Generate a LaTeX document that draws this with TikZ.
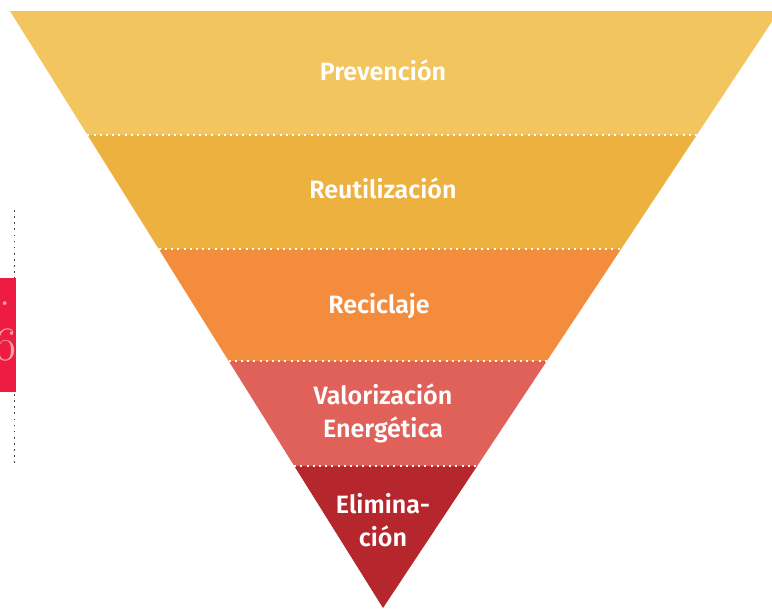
\documentclass[tikz,border=0pt]{standalone}
\usepackage{fontspec}
\newfontfamily\rotulo{Fira Sans}[BoldFont={Fira Sans SemiBold}]
\usetikzlibrary{calc}
\definecolor{capa1}{HTML}{F3C55E}
\definecolor{capa2}{HTML}{ECB13F}
\definecolor{capa3}{HTML}{F38C3D}
\definecolor{capa4}{HTML}{DF615A}
\definecolor{capa5}{HTML}{B5272D}
\definecolor{marca}{HTML}{EE1B42}
\definecolor{marcatxt}{HTML}{F5A6A4}
\begin{document}
\begin{tikzpicture}[x=0.75pt, y=-0.75pt,
	etiqueta/.style={white, font=\rotulo\bfseries\fontsize{18.8}{24.5}\selectfont, align=center, anchor=base},
	separador/.style={white, line width=1.5pt, dash pattern=on 1.5pt off 3.15pt}]
	\clip (0,0) rectangle (772,608);
	\coordinate (tl) at (10,11);
	\coordinate (tr) at (779,11);
	\coordinate (tip) at (383,608);
	% franjas de la piramide invertida
	\foreach \a / \b / \col in {0/0.2077/capa1, 0.2077/0.3987/capa2, 0.3987/0.5863/capa3, 0.5863/0.7621/capa4, 0.7621/1/capa5} {
		\fill[\col] ($(tl)!\a!(tip)$) -- ($(tl)!\b!(tip)$) -- ($(tr)!\b!(tip)$) -- ($(tr)!\a!(tip)$) -- cycle;
	}
	\foreach \t in {0.2077, 0.3987, 0.5863, 0.7621} {
		\draw[separador] ($(tl)!\t!(tip)$) -- ($(tr)!\t!(tip)$);
	}
	% base = linea de abajo en los textos de dos lineas
	\node[etiqueta] (prev) at (383,80) {Prevención};
	\node[etiqueta] (reut) at (383,198) {Reutilización};
	\node[etiqueta] (reci) at (379,313) {Reciclaje};
	\node[etiqueta] (valo) at (383,437) {Valorización\\Energética};
	\node[etiqueta] (elim) at (383,546) {Elimina-\\ción};
	% marca lateral
	\draw[black!75, line width=1.2pt, dash pattern=on 1.2pt off 3.4pt] (14.5,210) -- (14.5,467);
	\fill[marca] (0,278) rectangle (15.5,392);
	\node[marcatxt, font=\fontsize{34}{40}\selectfont, anchor=base east, inner sep=0pt] (num1) at (11,305) {1.};
	\node[marcatxt, font=\fontsize{36}{40}\selectfont, anchor=base east, inner sep=0pt] (num2) at (17,360) {6};
\end{tikzpicture}
\end{document}
